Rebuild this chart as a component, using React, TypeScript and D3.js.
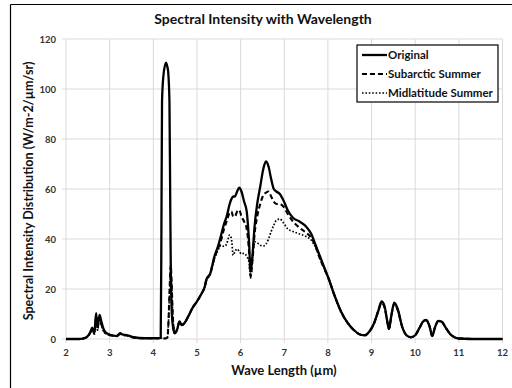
import React from "react";
import * as d3 from "d3";

const wavelength = [2.0, 2.3, 2.45, 2.55, 2.6, 2.65, 2.69, 2.72, 2.77, 2.81, 2.86, 2.93, 3.05, 3.16, 3.24, 3.3, 3.4, 3.55, 3.8, 4.1, 4.17, 4.185, 4.2, 4.23, 4.29, 4.32, 4.34, 4.37, 4.39, 4.4, 4.42, 4.45, 4.49, 4.55, 4.6, 4.65, 4.72, 4.8, 4.9, 5.0, 5.1, 5.18, 5.22, 5.3, 5.4, 5.48, 5.56, 5.62, 5.68, 5.75, 5.79, 5.83, 5.87, 5.92, 5.97, 6.02, 6.08, 6.14, 6.19, 6.23, 6.27, 6.32, 6.38, 6.45, 6.52, 6.58, 6.64, 6.7, 6.76, 6.82, 6.9, 6.98, 7.08, 7.2, 7.35, 7.5, 7.62, 7.72, 7.82, 7.92, 8.02, 8.15, 8.3, 8.45, 8.6, 8.75, 8.85, 8.95, 9.05, 9.15, 9.23, 9.3, 9.36, 9.4, 9.45, 9.52, 9.6, 9.7, 9.8, 9.9, 10.0, 10.1, 10.18, 10.25, 10.33, 10.39, 10.45, 10.53, 10.6, 10.7, 10.8, 10.9, 11.0, 11.5, 12.0];

const original = [0, 0, 0.5, 2.5, 4.5, 2.5, 10.3, 5, 9.6, 7, 4, 2.3, 1.5, 1.2, 2.3, 1.8, 1.5, 0.7, 0.3, 0.3, 0.5, 40, 95, 105, 110.5, 109, 107, 95, 50, 30, 12, 5, 2.3, 4, 7, 5.6, 6.5, 9, 12.5, 15, 18, 21, 24, 26, 33, 37, 42, 46, 49, 54, 56, 57, 57, 59, 60.5, 59, 55, 51, 40, 27, 33, 45, 54, 61, 68, 71, 69, 64, 60, 59, 58, 55.5, 51.5, 48.5, 47, 45, 42, 37.5, 33, 28.5, 24, 17.5, 11, 6.5, 3.5, 1.7, 1.5, 3, 6, 11, 15, 13, 7, 4, 9, 14.5, 12, 5, 1.5, 0.7, 1.5, 4.5, 7, 7.6, 5, 1.2, 4.5, 7.2, 7, 4.5, 2, 0.7, 0.2, 0, 0];

const subarcticSummer = [0, 0, 0.5, 2.3, 4, 2, 8.5, 4, 8.5, 6, 3.5, 2, 1.4, 1.1, 2, 1.6, 1.4, 0.6, 0.3, 0.3, 0.3, 0.3, 0.3, 0.2, 0.3, 0.5, 4, 18, 27, 29.5, 22, 8, 2.3, 4, 7, 5.6, 6.5, 9, 12.5, 15, 18, 21, 24, 26, 32.5, 36, 40, 44, 47, 50.6, 51, 49, 49, 51, 51.6, 49, 47, 44, 36, 25, 31, 42, 49, 54, 57.5, 58.5, 59, 57, 55, 54, 54, 53, 50, 47, 44.5, 42.5, 40.5, 37, 32, 28, 24, 17.5, 11, 6.5, 3.5, 1.7, 1.5, 3, 6, 11, 14.5, 12.5, 7, 4, 9, 14, 11.5, 5, 1.5, 0.7, 1.5, 4.5, 7, 7.6, 5, 1.2, 4.5, 7.2, 7, 4.5, 2, 0.7, 0.2, 0, 0];

const midlatitudeSummer = [0, 0, 0.5, 2.2, 3.8, 2, 8, 3.5, 8, 5.5, 3.2, 2, 1.4, 1.1, 2, 1.6, 1.4, 0.6, 0.3, 0.3, 0.3, 0.3, 0.3, 0.2, 0.3, 0.5, 4, 17, 26, 28.5, 21, 8, 2.3, 4, 7, 5.6, 6.5, 9, 12.5, 15, 18, 21, 23.5, 25.5, 32, 35.5, 37.5, 37, 38, 41.6, 40, 33.5, 35, 36, 35, 34, 34.3, 33, 31, 24.4, 32, 39, 38.5, 37.5, 37.2, 38, 40, 43, 45.5, 47.5, 48, 46.5, 44, 43, 42, 41, 39.5, 36.5, 32, 28, 24, 17.5, 11, 6.5, 3.5, 1.7, 1.5, 3, 6, 11, 14.5, 12.5, 7, 4, 9, 14, 11.5, 5, 1.5, 0.7, 1.5, 4.5, 7, 7.6, 5, 1.2, 4.5, 7.2, 7, 4.5, 2, 0.7, 0.2, 0, 0];

const seriesNames = ["Original", "Subarctic Summer", "Midlatitude Summer"];
const xTicks = [2, 3, 4, 5, 6, 7, 8, 9, 10, 11, 12];
const yTicks = [0, 20, 40, 60, 80, 100, 120];

const FONT = "Lato, 'Open Sans', 'Liberation Sans', sans-serif";

export default function App() {
  const W = 512, H = 388;
  const left = 66, right = 502.5, top = 39, bottom = 339;
  const x = d3.scaleLinear().domain([2, 12]).range([left, right]);
  const y = d3.scaleLinear().domain([0, 120]).range([bottom, top]);

  const styles = [
    { dash: "none", width: 2.3 },
    { dash: "5,3", width: 2.1 },
    { dash: "1.6,1.8", width: 1.7 },
  ];
  const data = [original, subarcticSummer, midlatitudeSummer];
  const line = d3
    .line<number>()
    .x((_, i) => x(wavelength[i]))
    .y((d) => y(d))
    .curve(d3.curveMonotoneX);

  const lx = 357, ly = 45, lw = 141, lh = 57;
  const rowY = [55, 74, 93];

  return (
    <svg width={W} height={H} style={{ position: "absolute", left: 0, top: 0, background: "#fff" }}>
      <rect x={0} y={0} width={W} height={H} fill="#fff" />
      {/* outer frame */}
      <line x1={10.5} y1={4.5} x2={W} y2={4.5} stroke="#000" strokeWidth={1.2} />
      <line x1={10.5} y1={4.5} x2={10.5} y2={H} stroke="#000" strokeWidth={1.2} />

      <text x={263} y={24} textAnchor="middle" fontFamily={FONT} fontWeight="bold" fontSize={14} fill="#111">
        Spectral Intensity with Wavelength
      </text>

      {/* grid */}
      {yTicks.map((t) => (
        <line key={"gy" + t} x1={left - 4} x2={right} y1={y(t)} y2={y(t)} stroke="#d9d9d9" strokeWidth={1} />
      ))}
      {xTicks.map((t) => (
        <line key={"gx" + t} x1={x(t)} x2={x(t)} y1={top} y2={bottom + 4} stroke="#d9d9d9" strokeWidth={1} />
      ))}

      {yTicks.map((t) => (
        <text key={"ty" + t} x={56} y={y(t) + 3.5} textAnchor="end" fontFamily={FONT} fontWeight="bold" fontSize={9.5} fill="#333">
          {t}
        </text>
      ))}
      {xTicks.map((t) => (
        <text key={"tx" + t} x={x(t)} y={356} textAnchor="middle" fontFamily={FONT} fontWeight="bold" fontSize={9.5} fill="#333">
          {t}
        </text>
      ))}

      <text x={284} y={375} textAnchor="middle" fontFamily={FONT} fontWeight="bold" fontSize={13} fill="#111">
        Wave Length (µm)
      </text>
      <text
        transform={`translate(33, 191) rotate(-90)`}
        textAnchor="middle"
        fontFamily={FONT}
        fontWeight="bold"
        fontSize={12.6}
        fill="#111"
      >
        Spectral Intensity Distribution (W/m-2/µm/sr)
      </text>

      {/* series, drawn back to front */}
      {[2, 1, 0].map((k) => (
        <path
          key={"s" + k}
          d={line(data[k]) || ""}
          fill="none"
          stroke="#000"
          strokeWidth={styles[k].width}
          strokeDasharray={styles[k].dash}
          strokeLinejoin="round"
        />
      ))}

      {/* legend */}
      <rect x={lx} y={ly} width={lw} height={lh} fill="#fff" stroke="#000" strokeWidth={1.2} />
      {seriesNames.map((n, i) => (
        <g key={n}>
          <line
            x1={362}
            x2={387}
            y1={rowY[i]}
            y2={rowY[i]}
            stroke="#000"
            strokeWidth={styles[i].width}
            strokeDasharray={styles[i].dash}
          />
          <text x={388} y={rowY[i] + 4} fontFamily={FONT} fontWeight="bold" fontSize={11.5} fill="#111">
            {n}
          </text>
        </g>
      ))}
    </svg>
  );
}
